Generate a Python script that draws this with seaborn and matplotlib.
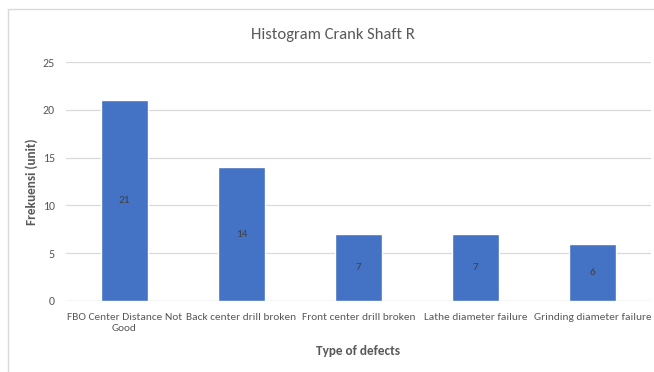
import matplotlib
matplotlib.use('Agg')
import matplotlib.pyplot as plt
import seaborn as sns
import pandas as pd
from matplotlib.patches import Rectangle

# data
categories = ['FBO Center Distance Not\nGood', 'Back center drill broken',
              'Front center drill broken', 'Lathe diameter failure',
              'Grinding diameter failure']
counts = [21, 14, 7, 7, 6]
yticks = [0, 5, 10, 15, 20, 25]

df = pd.DataFrame({'defect': categories, 'count': counts})

sns.set_style('white')
plt.rcParams['font.family'] = ['Carlito', 'DejaVu Sans']

fig = plt.figure(figsize=(6.54, 3.72), dpi=100)
ax = fig.add_axes([0.1009, 0.1909, 0.8945, 0.6424])

sns.barplot(data=df, x='defect', y='count', color='#4472C4', width=0.4,
            saturation=1, ax=ax, zorder=3)

# value labels in the middle of each bar
for i, v in enumerate(counts):
    ax.text(i, v / 2, str(v), ha='center', va='center', fontsize=8, color='#404040', zorder=4)

ax.set_ylim(0, 25)
ax.set_yticks(yticks)
ax.set_xlim(-0.5, len(categories) - 0.5)
ax.yaxis.grid(True, color='#D9D9D9', linewidth=0.9, zorder=0)
for s in ax.spines.values():
    s.set_visible(False)
ax.axhline(0, color='#D9D9D9', linewidth=0.9, zorder=1)
ax.tick_params(axis='both', length=0, colors='#595959')
ax.tick_params(axis='y', pad=8, labelsize=8.6)
ax.tick_params(axis='x', pad=9, labelsize=8.2)

ax.set_xlabel('Type of defects', fontsize=9.5, fontweight='bold', color='#595959', labelpad=9)
ax.set_ylabel('Frekuensi (unit)', fontsize=9.5, fontweight='bold', color='#595959', labelpad=3)

# title centred on the whole chart box, not the plot area
fig.text(333 / 654, 1 - 35 / 372, 'Histogram Crank Shaft R', fontsize=12, color='#595959',
         ha='center', va='center')

# chart border
fig.patches.append(Rectangle((8 / 654, -0.01), 1.0, 1 - 9 / 372 + 0.01, transform=fig.transFigure,
                             fill=False, edgecolor='#D9D9D9', linewidth=1))

fig.savefig('out.png', dpi=100)
